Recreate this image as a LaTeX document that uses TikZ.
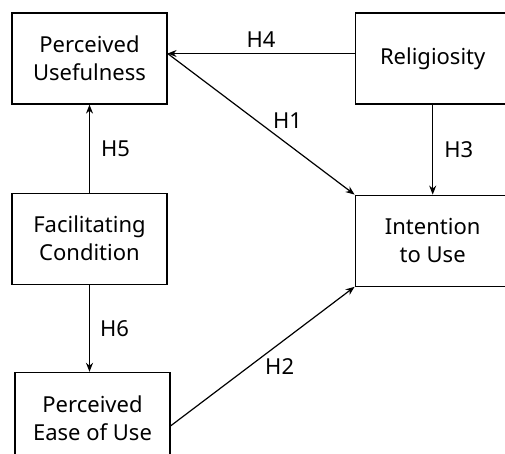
\documentclass[tikz,border=0pt]{standalone}
\usepackage{fontspec}
\setmainfont{Noto Sans}
\usepackage{tikz}
\usetikzlibrary{arrows.meta, positioning}

\begin{document}
\begin{tikzpicture}[
    x=1pt, y=-1pt,
    construct/.style={draw, line width=1.2pt, minimum width=155pt, minimum height=91pt,
                align=center, font=\fontsize{22}{28}\selectfont},
    hyp/.style={line width=1.2pt, -{Stealth[length=9pt, width=7pt]}},
    hlabel/.style={font=\fontsize{22}{25}\selectfont, inner sep=2pt}
]
\useasboundingbox (0,0) rectangle (505,454);
\node[construct] (pu) at (89.5,58.5) {Perceived \\ Usefulness};
\node[construct, right=187pt of pu] (rel) {Religiosity};
\node[construct, below=88pt of pu] (fc) {Facilitating \\ Condition};
\node[construct, below=87pt of fc, xshift=3pt] (peu) {Perceived \\ Ease of Use};
\node[construct, below=90pt of rel] (itu) {Intention \\ to Use};
\draw[hyp] ([yshift=5pt]rel.west) -- node[hlabel, above=3pt] {H4} ([yshift=5pt]pu.east);
\draw[hyp] ([yshift=5pt]pu.east) -- node[hlabel, above right, pos=0.55] {H1} (itu.north west);
\draw[hyp] (rel.south -| itu.north) -- node[hlabel, right=9pt] {H3} (itu.north);
\draw[hyp] (fc.north) -- node[hlabel, right=9pt] {H5} (fc.north |- pu.south);
\draw[hyp] (fc.south) -- node[hlabel, right=8pt] {H6} (fc.south |- peu.north);
\draw[hyp] ([yshift=-8pt]peu.east) -- node[hlabel, below right, pos=0.5] {H2} (itu.south west);
\end{tikzpicture}
\end{document}
